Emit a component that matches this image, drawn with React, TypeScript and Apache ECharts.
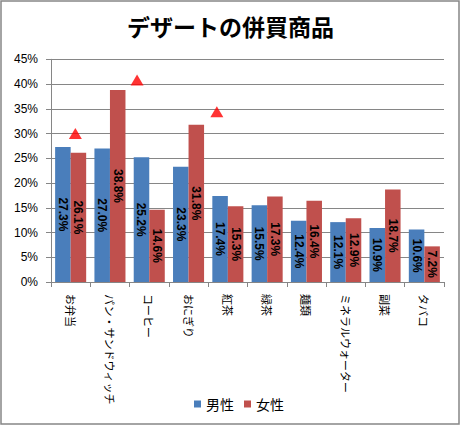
import React, { useEffect, useRef } from "react";
import * as echarts from "echarts";

const categories = ["お弁当", "パン・サンドウィッチ", "コーヒー", "おにぎり", "紅茶", "緑茶", "麺類", "ミネラルウォーター", "副菜", "タバコ"];
const maleValues = [27.3, 27.0, 25.2, 23.3, 17.4, 15.5, 12.4, 12.1, 10.9, 10.6];
const femaleValues = [26.1, 38.8, 14.6, 31.8, 15.3, 17.3, 16.4, 12.9, 18.7, 7.2];
const markerX = [0.62, 2.19, 4.22];
const markerY = [30.0, 40.8, 34.4];
const seriesNames = ["男性", "女性"];
const titleText = "デザートの併買商品";

export default function App() {
  const ref = useRef<HTMLDivElement>(null);
  useEffect(() => {
    if (!ref.current) return;
    const chart = echarts.init(ref.current, undefined, { renderer: "svg" });
    const labelCfg = {
      show: true,
      position: "inside",
      rotate: -90,
      color: "#000",
      fontWeight: "bold",
      fontSize: 12,
      fontFamily: "Liberation Sans, Arial, sans-serif",
      formatter: (p: any) => Number(p.value).toFixed(1) + "%",
    };
    chart.setOption({
      animation: false,
      backgroundColor: "#fff",
      title: {
        text: titleText,
        left: "center",
        top: 9,
        textStyle: { fontSize: 23, fontWeight: "bold", color: "#000", fontFamily: "Noto Sans CJK JP" },
      },
      legend: {
        data: seriesNames,
        left: 189,
        top: 392,
        icon: "rect",
        itemWidth: 7,
        itemHeight: 7,
        itemGap: 10,
        textStyle: { fontSize: 14, color: "#000", fontFamily: "Noto Sans CJK JP" },
      },
      grid: { left: 51, right: 17, top: 59.3, bottom: 144 },
      xAxis: [
        {
          type: "category",
          data: categories,
          axisLine: { lineStyle: { color: "#868686" } },
          axisTick: { show: true, length: 5, lineStyle: { color: "#868686" } },
          axisLabel: {
            rotate: -90,
            margin: 12,
            fontSize: 11,
            color: "#000",
            fontFamily: "Noto Sans CJK JP",
            interval: 0,
          },
        },
        { type: "value", min: 0, max: 10, show: false },
      ],
      yAxis: {
        type: "value",
        min: 0,
        max: 45,
        interval: 5,
        axisLine: { show: true, lineStyle: { color: "#868686" } },
        axisTick: { show: true, length: 5, lineStyle: { color: "#868686" } },
        axisLabel: {
          formatter: "{value}%",
          fontSize: 12,
          color: "#000",
          margin: 13,
          fontFamily: "Liberation Sans, Arial, sans-serif",
        },
        splitLine: { lineStyle: { color: "#868686" } },
      },
      series: [
        {
          name: seriesNames[0],
          type: "bar",
          data: maleValues,
          barGap: "0%",
          barCategoryGap: "21%",
          itemStyle: { color: "#4A7EBB" },
          label: labelCfg,
        },
        {
          name: seriesNames[1],
          type: "bar",
          data: femaleValues,
          barGap: "0%",
          barCategoryGap: "21%",
          itemStyle: { color: "#C0504D" },
          label: labelCfg,
        },
        {
          name: "marker",
          type: "scatter",
          xAxisIndex: 1,
          symbol: "triangle",
          symbolSize: [13, 11],
          itemStyle: { color: "#FF0000" },
          data: markerX.map((x, i) => [x, markerY[i]]),
        },
      ],
      graphic: [
        {
          type: "rect",
          shape: { x: 1, y: 1, width: 458, height: 423 },
          style: { fill: "none", stroke: "#868686", lineWidth: 1.5 },
          z: 100,
        },
      ],
    });
    return () => chart.dispose();
  }, []);
  return <div ref={ref} style={{ position: "fixed", left: 0, top: 0, width: 461, height: 426 }} />;
}
